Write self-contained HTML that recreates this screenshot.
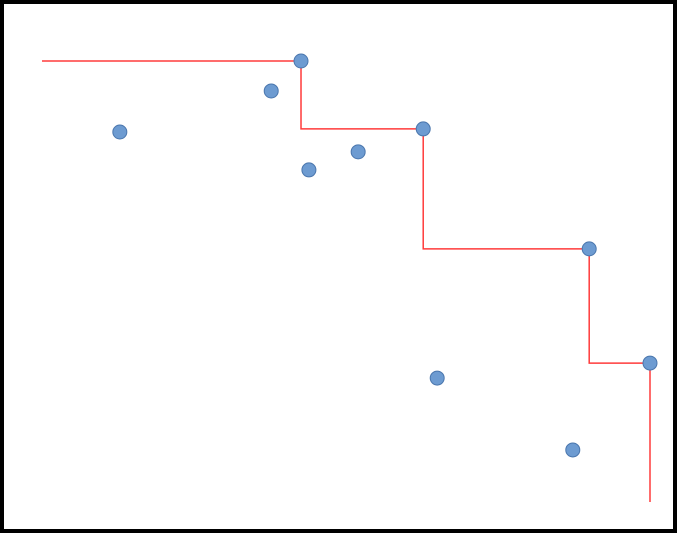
<!DOCTYPE html>
<html><head><meta charset="utf-8"><style>
html,body{margin:0;padding:0;background:#fff;}
svg{display:block;}
</style></head><body>
<svg id="chart" width="677" height="533" xmlns="http://www.w3.org/2000/svg">
<rect x="2" y="2" width="673" height="529" fill="#fff" stroke="#000" stroke-width="4"/>
<g id="line-layer"></g>
<g id="point-layer"></g>
</svg>
<script>
const xValues = [12.8, 37.7, 42.6, 43.9, 52.0, 62.7, 65.0, 87.3, 90.0, 100];
const yValues = [83.9, 93.2, 100, 75.3, 79.4, 84.6, 28.1, 11.8, 57.4, 31.5];
const frontierX = [42.6, 62.7, 90.0, 100];
const frontierY = [100, 84.6, 57.4, 31.5];
const lineStartX = [0];
const lineEndY = [0];

function sx(v){ return 42 + v/100*608; }
function sy(v){ return 502 - v/100*441; }
const NS = "http://www.w3.org/2000/svg";

let d = "M" + sx(lineStartX[0]) + "," + sy(frontierY[0]);
for (let i = 0; i < frontierX.length; i++) {
  d += " L" + sx(frontierX[i]) + "," + sy(frontierY[i]);
  const ny = i + 1 < frontierY.length ? frontierY[i+1] : lineEndY[0];
  d += " L" + sx(frontierX[i]) + "," + sy(ny);
}
const path = document.createElementNS(NS, "path");
path.setAttribute("d", d);
path.setAttribute("fill", "none");
path.setAttribute("stroke", "#ff3b3b");
path.setAttribute("stroke-width", "1.5");


document.getElementById("line-layer").appendChild(path);

for (let i = 0; i < xValues.length; i++) {
  const c = document.createElementNS(NS, "circle");
  c.setAttribute("cx", sx(xValues[i]));
  c.setAttribute("cy", sy(yValues[i]));
  c.setAttribute("r", "7");
  c.setAttribute("fill", "#6d9bd1");
  c.setAttribute("stroke", "#4a76ad");
  c.setAttribute("stroke-width", "1");
  
  
  document.getElementById("point-layer").appendChild(c);
}
</script>
</body></html>
